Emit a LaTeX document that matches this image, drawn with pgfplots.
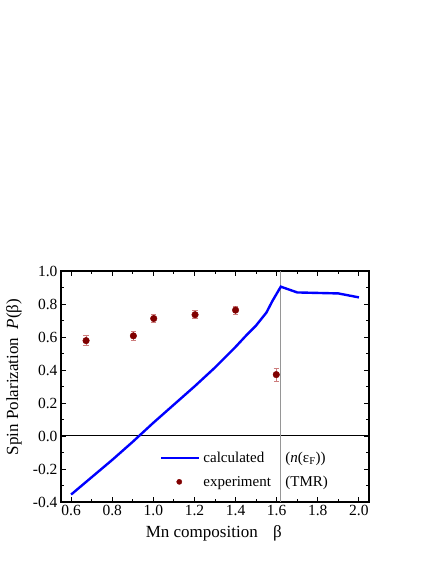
\documentclass[border=0pt]{standalone}
\usepackage{fontspec}
\setmainfont{Liberation Serif}
\usepackage{pgfplots}
\usepackage{pgfplotstable}
\pgfplotsset{compat=1.18}

\definecolor{calcblue}{RGB}{0,0,255}
\definecolor{expred}{RGB}{128,0,0}
\definecolor{errred}{RGB}{205,125,125}
\definecolor{refgray}{RGB}{150,150,150}

\pgfplotsset{
  lineleg/.style={legend image code/.code={\draw[##1] (0pt,0pt) -- (38pt,0pt);}},
  dotleg/.style={legend image code/.code={\draw[mark repeat=2, mark phase=2, ##1, mark size=2.6pt] plot coordinates {(0pt,0pt) (18pt,0pt) (38pt,0pt)};}},
}

% calculated spin polarization n(eF)
\pgfplotstableread{
beta P
0.60 -0.355
0.70 -0.250
0.80 -0.145
0.90 -0.035
1.00 0.080
1.10 0.190
1.20 0.300
1.30 0.415
1.40 0.540
1.45 0.607
1.50 0.670
1.55 0.748
1.58 0.820
1.62 0.905
1.70 0.870
1.80 0.867
1.90 0.864
2.00 0.840
}\calcdata

% experiment (TMR)
\pgfplotstableread{
beta P err
0.673 0.578 0.030
0.903 0.607 0.028
1.002 0.712 0.025
1.203 0.735 0.025
1.400 0.763 0.025
1.598 0.372 0.040
}\expdata

\begin{document}
\begin{tikzpicture}[x=1pt,y=1pt]
\path[use as bounding box] (0,0) rectangle (436,564);
\begin{axis}[
  at={(61pt,62pt)}, anchor=south west,
  scale only axis, width=308pt, height=231pt,
  xmin=0.551, xmax=2.049, ymin=-0.4, ymax=1.0,
  xtick={0.6,0.8,1.0,1.2,1.4,1.6,1.8,2.0},
  ytick={-0.4,-0.2,0,0.2,0.4,0.6,0.8,1.0},
  minor x tick num=1, minor y tick num=1,
  tick align=inside,
  major tick length=5pt, minor tick length=3pt,
  axis line style={line width=1.1pt},
  every tick/.style={black, line width=0.9pt},
  tick label style={font=\fontsize{15.5}{18}\selectfont},
  /pgf/number format/.cd, fixed, fixed zerofill, precision=1, assume math mode=true,
  /pgfplots/.cd,
  xlabel={Mn composition\hspace{0.9em}β},
  ylabel={Spin Polarization\hspace{0.5em}\textit{P}(β)},
  label style={font=\fontsize{17}{20}\selectfont},
  xlabel style={at={(axis description cs:0.496,-0.137)}, anchor=center},
  ylabel style={at={(axis description cs:-0.1526,0.541)}, anchor=center},
  legend style={at={(axis description cs:0.321,0.139)}, anchor=west,
    draw=none, fill=none, inner sep=0pt, row sep=8pt,
    font=\fontsize{15}{18}\selectfont,
    /tikz/every odd column/.style={column sep=1pt}},
  legend cell align=left,
  clip=false,
]
\addplot[black, line width=1pt, forget plot] coordinates {(0.551,0) (2.049,0)};
\addplot[refgray, line width=1.1pt, forget plot] coordinates {(1.62,-0.4) (1.62,1.0)};
\addplot[calcblue, line width=2.4pt, no marks, lineleg]
  table[x=beta, y=P] {\calcdata};
\addlegendentry{\makebox[82pt][l]{calculated}(\textit{n}(ε\textsubscript{F}))}
\addplot[only marks, mark=*, mark size=3.3pt, color=expred,
  mark options={fill=expred, draw=expred}, dotleg,
  error bars/.cd, y dir=both, y explicit,
  error bar style={color=errred, line width=0.8pt},
  error mark options={rotate=90, mark size=2.6pt, color=errred, line width=0.8pt}]
  table[x=beta, y=P, y error=err] {\expdata};
\addlegendentry{\makebox[82pt][l]{experiment}(TMR)}
\end{axis}
\end{tikzpicture}
\end{document}
